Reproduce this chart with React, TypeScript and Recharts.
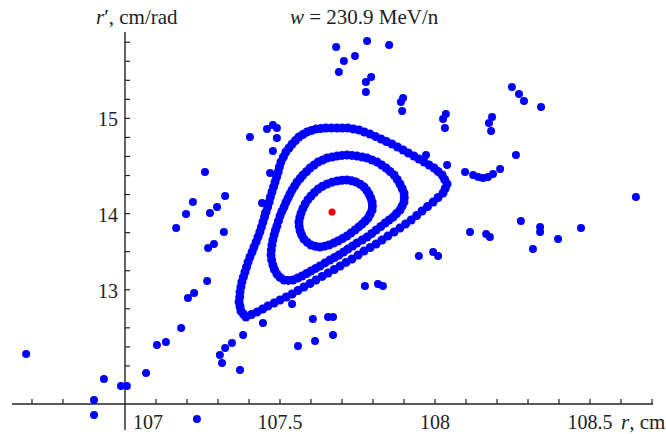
import React from 'react';
import { ScatterChart, Scatter, XAxis, YAxis, ReferenceLine, ReferenceDot } from 'recharts';

// ---- data (r in cm, r' in cm/rad) ----
const outerRing: number[][] = [
  [107.390, 12.914], [107.382, 12.945], [107.374, 12.977], [107.371, 13.024], [107.368, 13.071],
  [107.370, 13.123], [107.371, 13.176], [107.374, 13.229], [107.377, 13.282], [107.382, 13.334],
  [107.387, 13.387], [107.392, 13.439], [107.397, 13.492], [107.403, 13.544], [107.410, 13.597],
  [107.416, 13.649], [107.423, 13.702], [107.429, 13.754], [107.435, 13.807], [107.440, 13.859],
  [107.445, 13.912], [107.450, 13.964], [107.455, 14.017], [107.460, 14.069], [107.465, 14.122],
  [107.469, 14.174], [107.474, 14.227], [107.479, 14.279], [107.484, 14.332], [107.489, 14.384],
  [107.494, 14.437], [107.498, 14.489], [107.503, 14.542], [107.511, 14.594], [107.519, 14.647],
  [107.529, 14.689], [107.539, 14.731], [107.550, 14.768], [107.561, 14.805], [107.574, 14.831],
  [107.587, 14.857], [107.601, 14.873], [107.616, 14.889], [107.632, 14.894], [107.648, 14.899],
  [107.666, 14.899], [107.684, 14.899], [107.701, 14.899], [107.719, 14.899], [107.737, 14.889],
  [107.755, 14.878], [107.772, 14.857], [107.790, 14.836], [107.808, 14.810], [107.826, 14.784],
  [107.843, 14.757], [107.861, 14.731], [107.879, 14.700], [107.897, 14.668], [107.914, 14.636],
  [107.932, 14.605], [107.948, 14.573], [107.965, 14.542], [107.981, 14.510], [107.997, 14.479],
  [108.010, 14.442], [108.023, 14.405], [108.031, 14.358], [108.039, 14.311],
  [108.033, 14.264], [108.026, 14.216], [108.010, 14.169], [107.994, 14.122], [107.976, 14.075],
  [107.958, 14.027], [107.941, 13.980], [107.923, 13.933], [107.905, 13.891], [107.887, 13.849],
  [107.868, 13.807], [107.848, 13.765], [107.829, 13.723], [107.810, 13.681], [107.791, 13.644],
  [107.771, 13.607], [107.752, 13.565], [107.732, 13.523], [107.713, 13.487], [107.694, 13.450],
  [107.675, 13.413], [107.655, 13.376], [107.636, 13.340], [107.616, 13.303], [107.597, 13.266],
  [107.577, 13.229], [107.558, 13.192], [107.539, 13.155], [107.520, 13.124], [107.500, 13.092],
  [107.481, 13.061], [107.461, 13.029], [107.444, 12.998], [107.426, 12.966], [107.408, 12.940],
];

const middleRing: number[][] = [
  [107.539, 14.248], [107.547, 14.290], [107.555, 14.332], [107.565, 14.369], [107.574, 14.405],
  [107.586, 14.442], [107.597, 14.479], [107.610, 14.511], [107.623, 14.542], [107.638, 14.563],
  [107.652, 14.584], [107.668, 14.595], [107.684, 14.605], [107.700, 14.611], [107.716, 14.616],
  [107.732, 14.611], [107.748, 14.605], [107.765, 14.595], [107.781, 14.584], [107.797, 14.563],
  [107.813, 14.542], [107.828, 14.511], [107.842, 14.479], [107.855, 14.442], [107.868, 14.405],
  [107.878, 14.358], [107.887, 14.311], [107.894, 14.264], [107.900, 14.216], [107.901, 14.169],
  [107.900, 14.122], [107.894, 14.080], [107.887, 14.038], [107.876, 14.001], [107.865, 13.964],
  [107.852, 13.933], [107.839, 13.901], [107.825, 13.865], [107.810, 13.828], [107.796, 13.791],
  [107.781, 13.754], [107.765, 13.723], [107.748, 13.691], [107.734, 13.660], [107.719, 13.628],
  [107.705, 13.597], [107.690, 13.565], [107.676, 13.539], [107.661, 13.513], [107.645, 13.482],
  [107.629, 13.450], [107.615, 13.424], [107.600, 13.397], [107.586, 13.371], [107.571, 13.345],
  [107.557, 13.324], [107.542, 13.303], [107.527, 13.298], [107.513, 13.303], [107.500, 13.330],
  [107.490, 13.366], [107.482, 13.413], [107.477, 13.460], [107.473, 13.513], [107.471, 13.565],
  [107.472, 13.618], [107.474, 13.670], [107.477, 13.723], [107.481, 13.775], [107.485, 13.823],
  [107.490, 13.870], [107.495, 13.923], [107.500, 13.975], [107.506, 14.022], [107.513, 14.069],
  [107.519, 14.117], [107.526, 14.164], [107.532, 14.206],
];

const innerRing: number[][] = [
  [107.716, 14.353], [107.731, 14.345], [107.745, 14.332], [107.759, 14.308], [107.771, 14.279],
  [107.780, 14.243], [107.787, 14.206], [107.793, 14.164], [107.797, 14.122], [107.798, 14.080],
  [107.797, 14.038], [107.791, 13.996], [107.784, 13.954], [107.775, 13.922], [107.765, 13.891],
  [107.754, 13.860], [107.742, 13.828], [107.729, 13.796], [107.716, 13.765], [107.702, 13.738],
  [107.687, 13.712], [107.673, 13.690], [107.658, 13.670], [107.644, 13.658], [107.629, 13.649],
  [107.614, 13.656], [107.600, 13.670], [107.588, 13.698], [107.577, 13.733], [107.570, 13.775],
  [107.565, 13.817], [107.562, 13.865], [107.561, 13.912], [107.564, 13.960], [107.568, 14.006],
  [107.574, 14.054], [107.581, 14.101], [107.590, 14.145], [107.600, 14.185], [107.611, 14.222],
  [107.623, 14.258], [107.637, 14.287], [107.652, 14.311], [107.668, 14.330], [107.684, 14.342],
  [107.700, 14.350],
];

const scatteredPoints: number[][] = [
  // upper group
  [107.681, 15.750], [107.781, 15.813], [107.852, 15.771], [107.706, 15.603], [107.742, 15.655],
  [107.690, 15.487], [107.794, 15.435], [107.777, 15.382], [107.777, 15.277], [107.897, 15.214],
  [107.890, 15.172], [107.894, 15.078], [108.035, 15.046], [108.026, 14.994], [108.032, 14.899],
  // right group
  [108.184, 15.015], [108.174, 14.952], [108.181, 14.868], [108.248, 15.330], [108.271, 15.256],
  [108.287, 15.183], [108.342, 15.120], [108.261, 14.616], [107.971, 14.616], [108.039, 14.511],
  [108.097, 14.437], [108.123, 14.405], [108.139, 14.384], [108.155, 14.374], [108.171, 14.384],
  [108.187, 14.416], [108.210, 14.468], [108.648, 14.174],
  // near outer ring, left
  [107.403, 14.805], [107.458, 14.889], [107.477, 14.931], [107.490, 14.899], [107.490, 14.794],
  [107.477, 14.658], [107.468, 14.426], [107.442, 14.111], [107.452, 14.006], [107.445, 13.912],
  // left outliers
  [107.258, 14.437], [107.323, 14.185], [107.219, 14.122], [107.297, 14.069], [107.274, 14.006],
  [107.197, 13.996], [107.165, 13.849], [107.319, 13.807], [107.287, 13.681], [107.268, 13.639],
  [107.265, 13.292], [107.223, 13.166], [107.203, 13.113], [107.181, 12.798], [107.132, 12.651],
  [107.103, 12.620], [107.068, 12.326], [107.381, 12.725], [107.345, 12.641], [107.323, 12.588],
  [107.306, 12.515], [107.313, 12.431], [107.371, 12.357], [106.681, 12.525], [106.932, 12.263],
  [106.900, 12.042], [106.900, 11.884], [106.987, 12.189], [107.006, 12.189], [107.232, 11.842],
  // below the rings
  [107.445, 12.851], [107.558, 12.609], [107.539, 13.050], [107.606, 12.893], [107.613, 12.662],
  [107.655, 12.914], [107.671, 12.914], [107.671, 12.725],
  // lower right
  [107.774, 13.239], [107.816, 13.261], [107.832, 13.239], [107.948, 13.555], [107.994, 13.597],
  [108.010, 13.555], [108.113, 13.807], [108.165, 13.786], [108.177, 13.754], [108.277, 13.922],
  [108.316, 13.628], [108.339, 13.859], [108.339, 13.807], [108.397, 13.733], [108.471, 13.849],
];

const centerPoint: number[][] = [[107.668, 14.017]];

const xDomain: [number, number] = [106.6355, 108.7032];
const yDomain: [number, number] = [11.7269, 15.9076];
const axisX = 107;
const axisY = 12;

const xMinorTicks = [106.7, 106.8, 106.9, 107.1, 107.2, 107.3, 107.4, 107.5, 107.6, 107.7, 107.8, 107.9,
  108.0, 108.1, 108.2, 108.3, 108.4, 108.5, 108.6, 108.7];
const xTickLabels = [
  { v: 107, t: '107' },
  { v: 107.5, t: '107.5' },
  { v: 108, t: '108' },
  { v: 108.5, t: '108.5' },
];
const yMinorTicks = [12.2, 12.4, 12.6, 12.8, 13.0, 13.2, 13.4, 13.6, 13.8, 14.0, 14.2, 14.4, 14.6, 14.8,
  15.0, 15.2, 15.4, 15.6, 15.8];
// label "13" sits by the 13.2 tick in the reference figure
const yTickLabels = [
  { v: 13.2, t: '13' },
  { v: 14, t: '14' },
  { v: 15, t: '15' },
];

const toPts = (arr: number[][]) => arr.map(([x, y]) => ({ x, y }));

const AXIS = '#222';
const FONT = '"Liberation Serif", "Times New Roman", serif';

const blueDot = (p: any) => <circle cx={p.cx} cy={p.cy} r={4} fill="#0000ff" />;
const ringDot = (p: any) => <circle cx={p.cx} cy={p.cy} r={4.5} fill="#0000ff" />;
const redDot = (p: any) => <circle cx={p.cx} cy={p.cy} r={3.6} fill="#ee0000" />;

export default function App() {
  return (
    <div style={{ position: 'absolute', left: 0, top: 0, width: 666, height: 434, background: '#fff' }}>
      <ScatterChart width={666} height={434} margin={{ top: 32, right: 13, bottom: 4, left: 12 }}>
        <XAxis type="number" dataKey="x" domain={xDomain} hide allowDataOverflow />
        <YAxis type="number" dataKey="y" domain={yDomain} hide allowDataOverflow />
        <ReferenceLine y={axisY} stroke={AXIS} strokeWidth={1.4} />
        <ReferenceLine x={axisX} stroke={AXIS} strokeWidth={1.4} />
        {xMinorTicks.map((v) => (
          <ReferenceDot key={'xt' + v} x={v} y={axisY} r={0}
            shape={(p: any) => <line x1={p.cx} y1={p.cy} x2={p.cx} y2={p.cy - 5} stroke={AXIS} strokeWidth={1.2} />} />
        ))}
        {yMinorTicks.map((v) => (
          <ReferenceDot key={'yt' + v} x={axisX} y={v} r={0}
            shape={(p: any) => <line x1={p.cx} y1={p.cy} x2={p.cx + 5} y2={p.cy} stroke={AXIS} strokeWidth={1.2} />} />
        ))}
        {xTickLabels.map((d) => (
          <ReferenceDot key={'xl' + d.v} x={d.v} y={axisY} r={0}
            shape={(p: any) => (
              <text x={p.cx + (d.v === axisX ? 23 : 0)} y={p.cy + 25} textAnchor="middle"
                fontFamily={FONT} fontSize={20} fill="#222">{d.t}</text>
            )} />
        ))}
        {yTickLabels.map((d) => (
          <ReferenceDot key={'yl' + d.v} x={axisX} y={d.v} r={0}
            shape={(p: any) => (
              <text x={p.cx - 7} y={p.cy + 8} textAnchor="end"
                fontFamily={FONT} fontSize={20} fill="#222">{d.t}</text>
            )} />
        ))}
        <Scatter data={toPts(outerRing)} fill="#0000ff" shape={ringDot} isAnimationActive={false} />
        <Scatter data={toPts(middleRing)} fill="#0000ff" shape={ringDot} isAnimationActive={false} />
        <Scatter data={toPts(innerRing)} fill="#0000ff" shape={ringDot} isAnimationActive={false} />
        <Scatter data={toPts(scatteredPoints)} fill="#0000ff" shape={blueDot} isAnimationActive={false} />
        <Scatter data={toPts(centerPoint)} fill="#ee0000" shape={redDot} isAnimationActive={false} />
        <text x={96} y={24} fontFamily={FONT} fontSize={21} fill="#222">
          <tspan fontStyle="italic">r</tspan>′, cm/rad
        </text>
        <text x={290} y={24} fontFamily={FONT} fontSize={21} fill="#222">
          <tspan fontStyle="italic">w</tspan> = 230.9 MeV/n
        </text>
        <text x={621} y={429} fontFamily={FONT} fontSize={21} fill="#222">
          <tspan fontStyle="italic">r</tspan>, cm
        </text>
      </ScatterChart>
    </div>
  );
}
